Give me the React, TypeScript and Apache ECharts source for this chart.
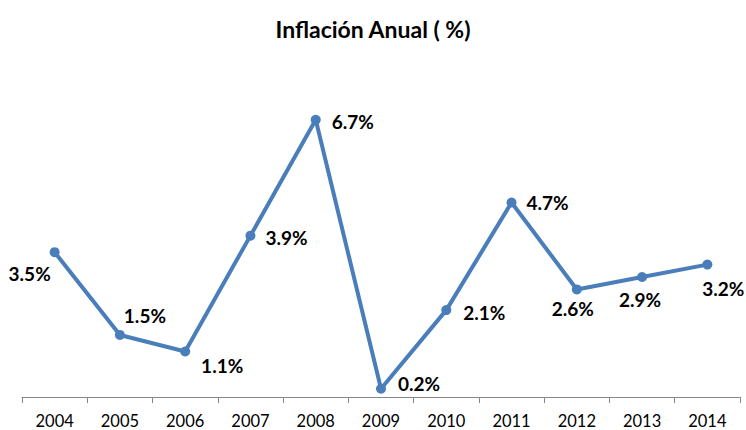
import React, { useEffect, useRef } from "react";
import * as echarts from "echarts";

const years = ["2004", "2005", "2006", "2007", "2008", "2009", "2010", "2011", "2012", "2013", "2014"];
const inflation = [3.5, 1.5, 1.1, 3.9, 6.7, 0.2, 2.1, 4.7, 2.6, 2.9, 3.2];
const labelOffsets: [number, number][] = [
  [-25, 21], [25, -19], [37, 14], [36, 2], [37, 2], [38, -5], [38, 2], [36, 0], [-4, 19], [-2, 22], [16, 24],
];

export default function App() {
  const ref = useRef<HTMLDivElement>(null);
  useEffect(() => {
    const chart = echarts.init(ref.current!, null, { renderer: "svg" });
    chart.setOption({
      animation: false,
      title: {
        text: "Inflación Anual ( %)",
        left: "center",
        top: 12,
        textStyle: { fontFamily: "Lato", fontWeight: "bold", fontSize: 23, color: "#000" },
      },
      grid: { left: 22, right: 6, top: 66, bottom: 33 },
      xAxis: {
        type: "category",
        data: years,
        boundaryGap: true,
        axisLine: { show: true, lineStyle: { color: "#868686", width: 1 } },
        axisTick: { show: true, length: 6, lineStyle: { color: "#868686" } },
        axisLabel: { fontFamily: "Lato", fontSize: 16.5, lineHeight: 16, color: "#000", margin: 16 },
      },
      yAxis: {
        type: "value",
        min: 0,
        max: 8,
        interval: 1,
        show: false,
        splitLine: { show: false },
      },
      series: [
        {
          type: "line",
          data: inflation.map((v, i) => ({
            value: v,
            label: { offset: labelOffsets[i] },
          })),
          symbol: "circle",
          symbolSize: 10,
          lineStyle: { color: "#4A7EBB", width: 4 },
          itemStyle: { color: "#4A7EBB" },
          label: {
            show: true,
            position: "inside",
            formatter: (p: any) => p.value.toFixed(1) + "%",
            fontFamily: "Lato",
            fontWeight: "bold",
            fontSize: 19,
            color: "#000",
            align: "center",
            verticalAlign: "middle",
          },
        },
      ],
    });
    return () => chart.dispose();
  }, []);
  return <div ref={ref} style={{ position: "absolute", left: 0, top: 0, width: 746, height: 430 }} />;
}
